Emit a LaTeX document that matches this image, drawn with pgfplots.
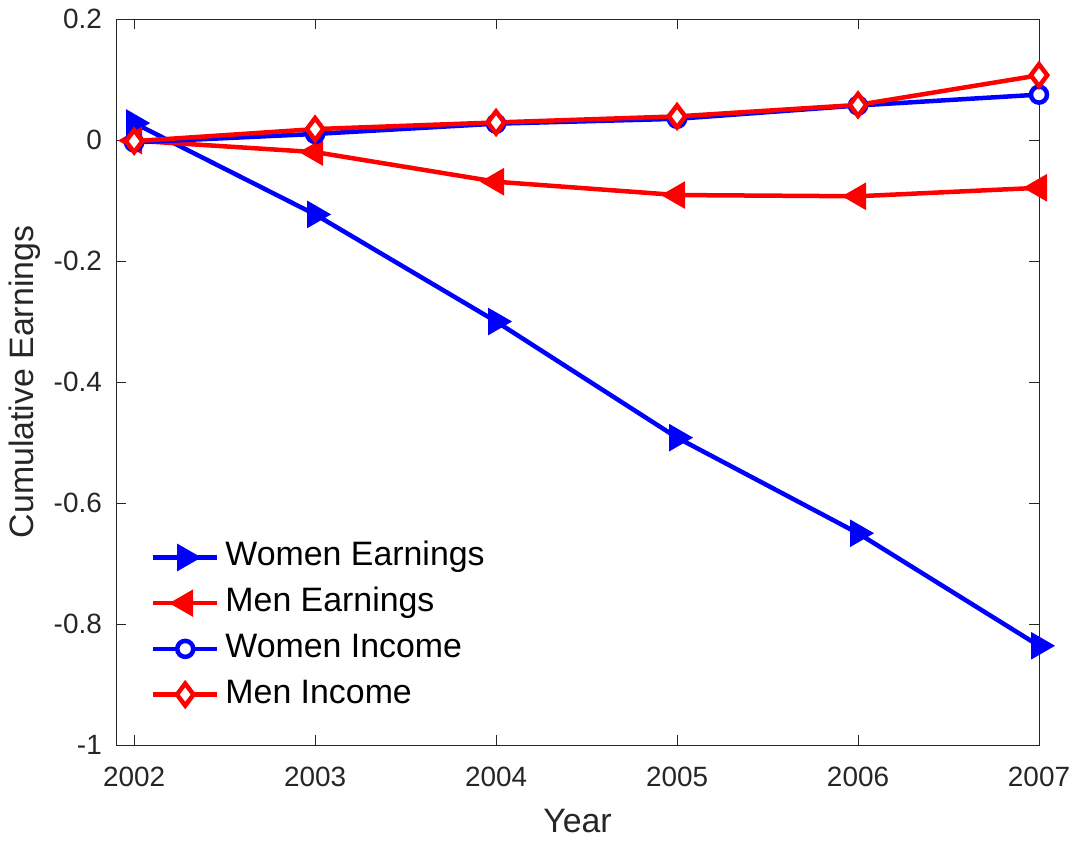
\documentclass[border=0pt]{standalone}
\usepackage{pgfplots}
\pgfplotsset{compat=1.18}
\usepackage{fontspec}
\setmainfont{Liberation Sans}
\definecolor{mblue}{RGB}{0,0,255}
\definecolor{mred}{RGB}{255,0,0}
\definecolor{axgray}{RGB}{38,38,38}
\begin{document}
\begin{tikzpicture}
\begin{axis}[
  scale only axis,
  width=923bp, height=726bp,
  xmin=2001.9, xmax=2007,
  ymin=-1, ymax=0.2,
  xtick={2002,2003,2004,2005,2006,2007},
  ytick={-1,-0.8,-0.6,-0.4,-0.2,0,0.2},
  yticklabels={-1,-0.8,-0.6,-0.4,-0.2,0,0.2},
  xticklabels={2002,2003,2004,2005,2006,2007},
  tick pos=both,
  tick align=inside,
  major tick length=10bp,
  axis line style={draw=axgray, line width=0.9bp},
  every tick/.style={draw=axgray, line width=0.9bp},
  xticklabel style={font=\fontsize{28}{32}\selectfont, text=axgray, anchor=base, inner sep=0pt, yshift=-41bp},
  yticklabel style={font=\fontsize{28}{32}\selectfont, text=axgray, anchor=east, inner sep=0pt, xshift=-14bp},
  xlabel={Year},
  ylabel={Cumulative Earnings},
  xlabel style={font=\fontsize{34}{38}\selectfont, text=axgray, at={(rel axis cs:0.5,0)}, anchor=base, inner sep=0pt, yshift=-87bp},
  ylabel style={font=\fontsize{34}{38}\selectfont, text=axgray, at={(rel axis cs:0,0.5)}, anchor=base, inner sep=0pt, yshift=82bp},
  legend cell align=left,
  legend style={draw=none, fill=none, at={(rel axis cs:0.0379,0.2824)}, anchor=north west,
    inner sep=0pt, outer sep=0pt, row sep=10.7bp, column sep=4bp,
    font=\fontsize{34}{38}\selectfont,
    nodes={inner sep=2bp, text height=24bp, text depth=7bp}},
  legend image code/.code={\draw[mark repeat=2,mark phase=2] plot coordinates {(0bp,0bp)(32bp,0bp)(64bp,0bp)};},
]
\addplot[mblue, line width=4.5bp, mark=triangle*, mark size=15bp, mark options={solid, rotate=-90, fill=mblue, line width=1bp}]
  coordinates {(2002,0.028) (2003,-0.123) (2004,-0.300) (2005,-0.492) (2006,-0.650) (2007,-0.836)};
\addlegendentry{Women Earnings}
\addplot[mred, line width=4.5bp, mark=triangle*, mark size=15bp, mark options={solid, rotate=90, fill=mred, line width=1bp}]
  coordinates {(2002,-0.001) (2003,-0.020) (2004,-0.069) (2005,-0.091) (2006,-0.093) (2007,-0.079)};
\addlegendentry{Men Earnings}
\addplot[mblue, line width=4.5bp, mark=*, mark size=8bp, mark options={solid, fill=white, line width=4.5bp}]
  coordinates {(2002,-0.004) (2003,0.010) (2004,0.027) (2005,0.035) (2006,0.057) (2007,0.075)};
\addlegendentry{Women Income}
\addplot[mred, line width=4.5bp, mark=diamond*, mark size=11bp, mark options={solid, fill=white, line width=4.5bp}]
  coordinates {(2002,-0.002) (2003,0.018) (2004,0.029) (2005,0.039) (2006,0.058) (2007,0.107)};
\addlegendentry{Men Income}
\end{axis}
\pgfresetboundingbox
\path ([shift={(-116bp,-97bp)}]current axis.south west) rectangle ([shift={(38bp,19bp)}]current axis.north east);
\end{tikzpicture}
\end{document}
